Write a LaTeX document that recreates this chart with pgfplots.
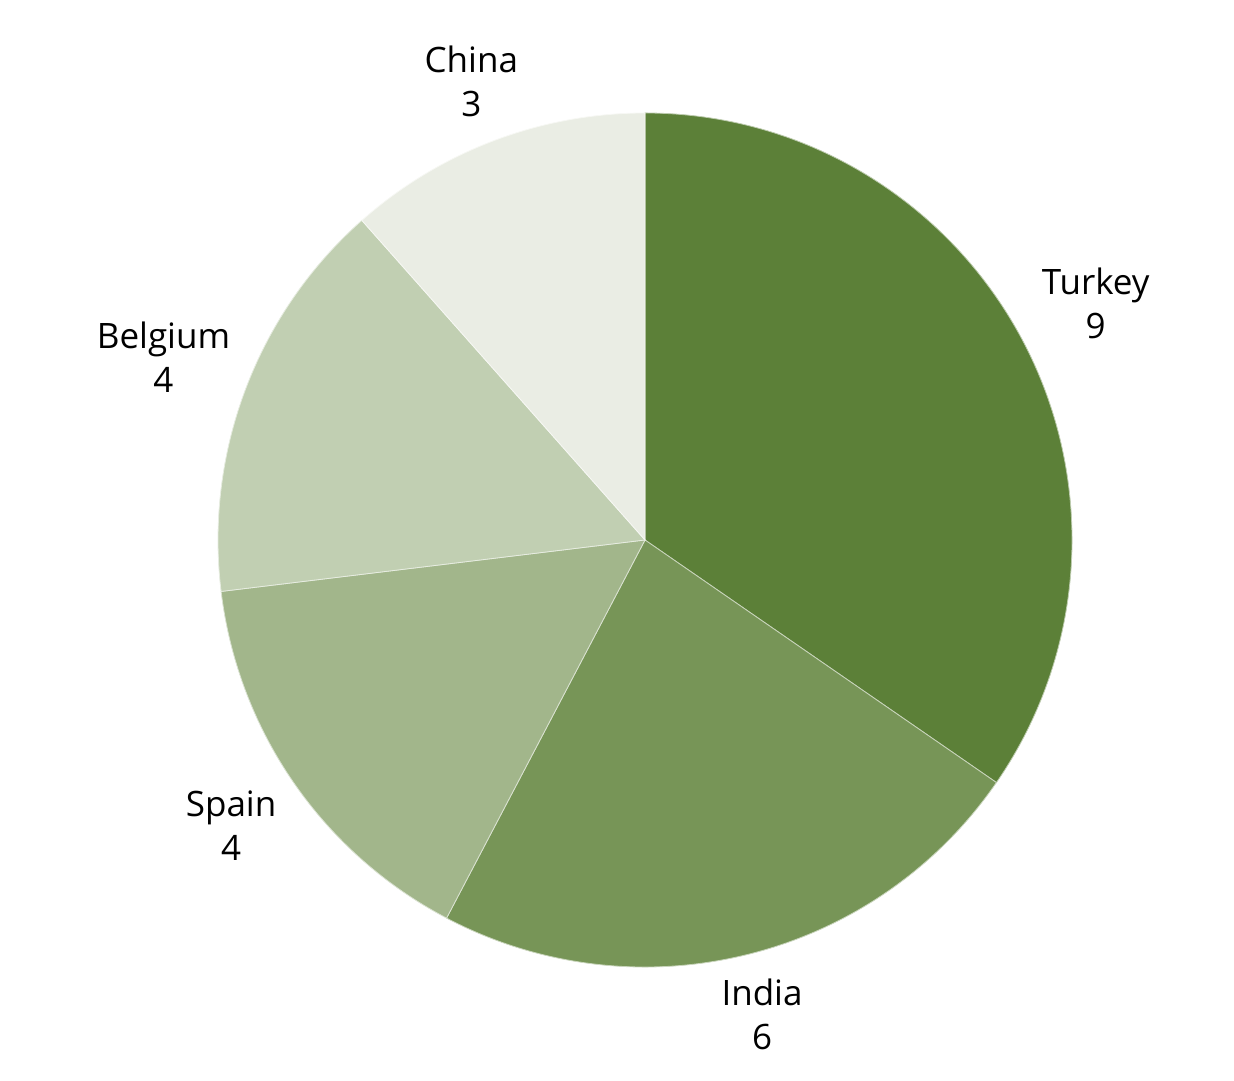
\documentclass[border=0pt]{standalone}
\usepackage{fontspec}
\setmainfont{Open Sans}
\usepackage{pgfplots}
\usepackage{pgfplotstable}
\pgfplotsset{compat=1.18}
\definecolor{cTurkey}{HTML}{5C8038}
\definecolor{cIndia}{HTML}{779557}
\definecolor{cSpain}{HTML}{A2B68B}
\definecolor{cBelgium}{HTML}{C1CFB2}
\definecolor{cChina}{HTML}{EAEDE4}
\pgfplotstableread[col sep=comma]{
name,value,col,lr
Turkey,9,cTurkey,509
India,6,cIndia,489
Spain,4,cSpain,503
Belgium,4,cBelgium,515
China,3,cChina,490
}\piedata
\begin{document}
\begin{tikzpicture}
\begin{axis}[
  x=0.5pt, y=0.5pt,
  xmin=-645, xmax=589, ymin=-540, ymax=540,
  scale only axis, hide axis, clip=false,
]
\pgfplotstablegetrowsof{\piedata}
\pgfmathtruncatemacro{\nrows}{\pgfplotsretval-1}
\def\total{26}
\def\R{427}
\global\def\startang{90}
\pgfplotsinvokeforeach{0,...,\nrows}{
  \pgfplotstablegetelem{#1}{value}\of{\piedata}\let\val\pgfplotsretval
  \pgfplotstablegetelem{#1}{name}\of{\piedata}\let\nm\pgfplotsretval
  \pgfplotstablegetelem{#1}{col}\of{\piedata}\let\cl\pgfplotsretval
  \pgfplotstablegetelem{#1}{lr}\of{\piedata}\let\Rl\pgfplotsretval
  \pgfmathsetmacro{\a}{\startang}
  \pgfmathsetmacro{\b}{\startang-360*\val/\total}
  \pgfmathsetmacro{\m}{(\a+\b)/2}
  \edef\temp{\noexpand\fill[fill=\cl, draw=white!60!\cl, line width=0.4pt]
    (axis cs:0,0) -- (axis cs:{\R*cos(\a)},{\R*sin(\a)})
    arc[start angle=\a, end angle=\b, radius=213.5pt] -- cycle;
    \noexpand\node[align=center, font=\noexpand\fontsize{17.5}{22}\noexpand\selectfont]
      at (axis cs:{\Rl*cos(\m)},{\Rl*sin(\m)}) {\nm\noexpand\\\val};}
  \temp
  \global\let\startang\b
}
\path (axis cs:-645,-540) rectangle (axis cs:589,540);
\end{axis}
\end{tikzpicture}
\end{document}
